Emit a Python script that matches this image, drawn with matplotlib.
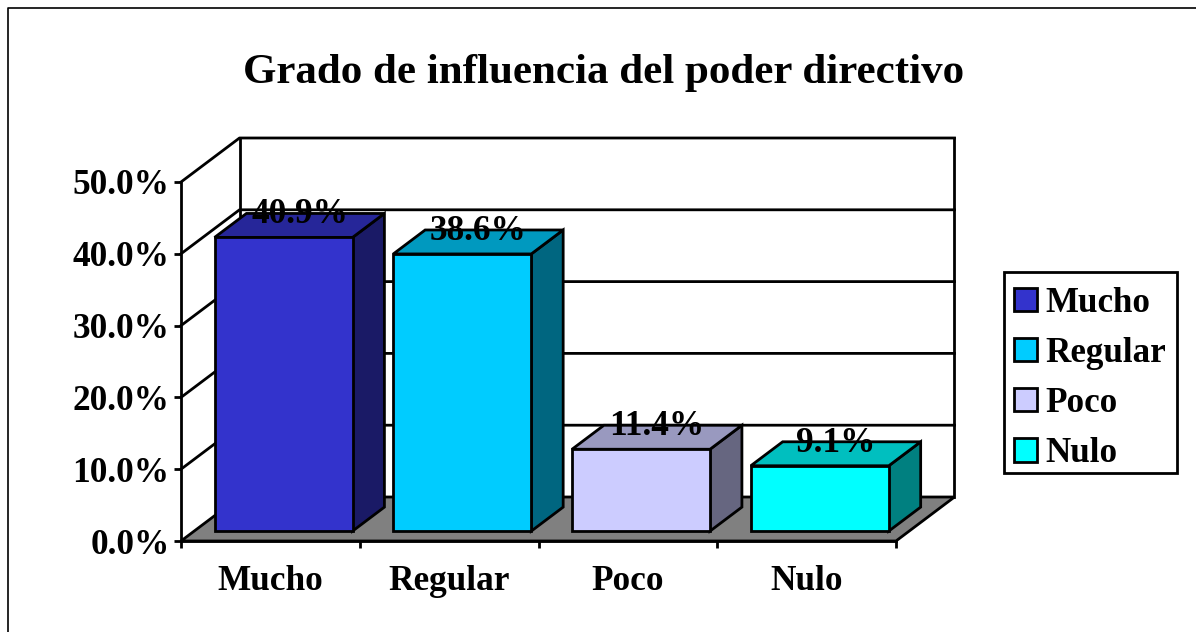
import matplotlib
matplotlib.use("Agg")
import matplotlib.pyplot as plt
from matplotlib.lines import Line2D
from matplotlib.patches import Patch, Polygon, Rectangle

categories = ["Mucho", "Regular", "Poco", "Nulo"]
values = [40.9, 38.6, 11.4, 9.1]
y_ticks = [0, 10, 20, 30, 40, 50]
front_colors = ["#3333CC", "#00CCFF", "#CCCCFF", "#00FFFF"]
top_colors = ["#262699", "#0099BF", "#9999BF", "#00BFBF"]
side_colors = ["#1A1A66", "#006680", "#666680", "#008080"]

W, H = 1196, 632
L, R, T, B = 181, 896, 182, 541
plt.rcParams["font.family"] = ["Liberation Serif", "DejaVu Serif"]
plt.rcParams["font.weight"] = "bold"
LW = 2.0
FS = 25.4

fig = plt.figure(figsize=(W / 100, H / 100), dpi=100)
# outer frame: only the left and top edges fall inside the picture
fig.add_artist(Line2D([8 / W, 8 / W, 1], [0, 1 - 8 / H, 1 - 8 / H],
                      transform=fig.transFigure, color="black", lw=1.2))
ax = fig.add_axes([L / W, 1 - B / H, (R - L) / W, (B - T) / H])
ax.set_xlim(0, len(categories))
ax.set_ylim(0, 50)
ax.patch.set_visible(False)
for s in ("top", "right"):
    ax.spines[s].set_visible(False)
for s in ("left", "bottom"):
    ax.spines[s].set_linewidth(LW)
    ax.spines[s].set_zorder(6)

DX = 58.5 / ((R - L) / len(categories))   # depth shift, category units
DY = 44 / ((B - T) / 50)                  # depth shift, value units


def depth(x, y, d):
    return (x + d * DX, y + d * DY)


def poly(points, **kw):
    p = Polygon(points, closed=True, clip_on=False, **kw)
    ax.add_patch(p)


n = len(categories)
# floor
poly([depth(0, 0, 0), depth(n, 0, 0), depth(n, 0, 1), depth(0, 0, 1)],
     fc="#808080", ec="black", lw=LW, joinstyle="miter", zorder=1)
# walls and gridlines
for t in y_ticks:
    if t:
        ax.plot(*zip(depth(0, t, 0), depth(0, t, 1), depth(n, t, 1)),
                color="black", lw=LW, clip_on=False, zorder=1.5)
ax.plot(*zip(depth(0, 0, 1), depth(0, 50, 1)), color="black", lw=LW, clip_on=False, zorder=1.5)
ax.plot(*zip(depth(n, 0, 1), depth(n, 50, 1)), color="black", lw=LW, clip_on=False, zorder=1.5)

# bars
GAP = 0.114
D0, D1 = 0.225, 0.77
for i, v in enumerate(values):
    x0, x1 = i + GAP, i + 1 - GAP
    kw = dict(ec="black", lw=LW, joinstyle="miter", zorder=3 + i * 0.1)
    poly([depth(x1, 0, D0), depth(x1, 0, D1), depth(x1, v, D1), depth(x1, v, D0)],
         fc=side_colors[i], **kw)
    poly([depth(x0, v, D0), depth(x1, v, D0), depth(x1, v, D1), depth(x0, v, D1)],
         fc=top_colors[i], **kw)
    poly([depth(x0, 0, D0), depth(x1, 0, D0), depth(x1, v, D0), depth(x0, v, D0)],
         fc=front_colors[i], **kw)
    cx, cy = depth((x0 + x1) / 2, v, (D0 + D1) / 2)
    ax.annotate(f"{v:.1f}%", (cx, v), xytext=(0, 23.5), textcoords="offset points",
                ha="center", va="center", fontsize=FS, fontweight="bold", color="black", zorder=5,
                annotation_clip=False)

# axes
ax.set_yticks(y_ticks)
ax.set_yticklabels([f"{t:.1f}%" for t in y_ticks], fontsize=FS, fontweight="bold")
ax.set_xticks(range(n + 1))
ax.set_xticklabels([])
ax.set_xticks([i + 0.5 for i in range(n)], minor=True)
ax.set_xticklabels(categories, minor=True, fontsize=FS, fontweight="bold")
ax.tick_params(axis="y", which="major", direction="out", length=5, width=LW, pad=3.3)
ax.tick_params(axis="x", which="major", direction="out", length=5, width=LW, pad=4)
ax.tick_params(axis="x", which="minor", length=0, pad=17.5)

fig.text(603.5 / W, 1 - 73 / H, "Grado de influencia del poder directivo",
         ha="center", va="center", fontsize=31, fontweight="bold")

# legend box drawn apart so the rows can sit as low in it as in the reference
fig.add_artist(Rectangle((1004 / W, 1 - 473 / H), 173 / W, 201 / H, transform=fig.transFigure,
                         fc="white", ec="black", lw=LW))
handles = [Patch(fc=c, ec="black", lw=LW) for c in front_colors]
leg = fig.legend(handles, categories, loc="upper left",
                 bbox_to_anchor=(1005 / W, 1 - 277.5 / H), bbox_transform=fig.transFigure,
                 fontsize=25.2, frameon=False,
                 handlelength=0.66, handleheight=0.66, handletextpad=0.243,
                 labelspacing=0.49, borderpad=0.26, borderaxespad=0)

fig.savefig("out.png", dpi=100)
